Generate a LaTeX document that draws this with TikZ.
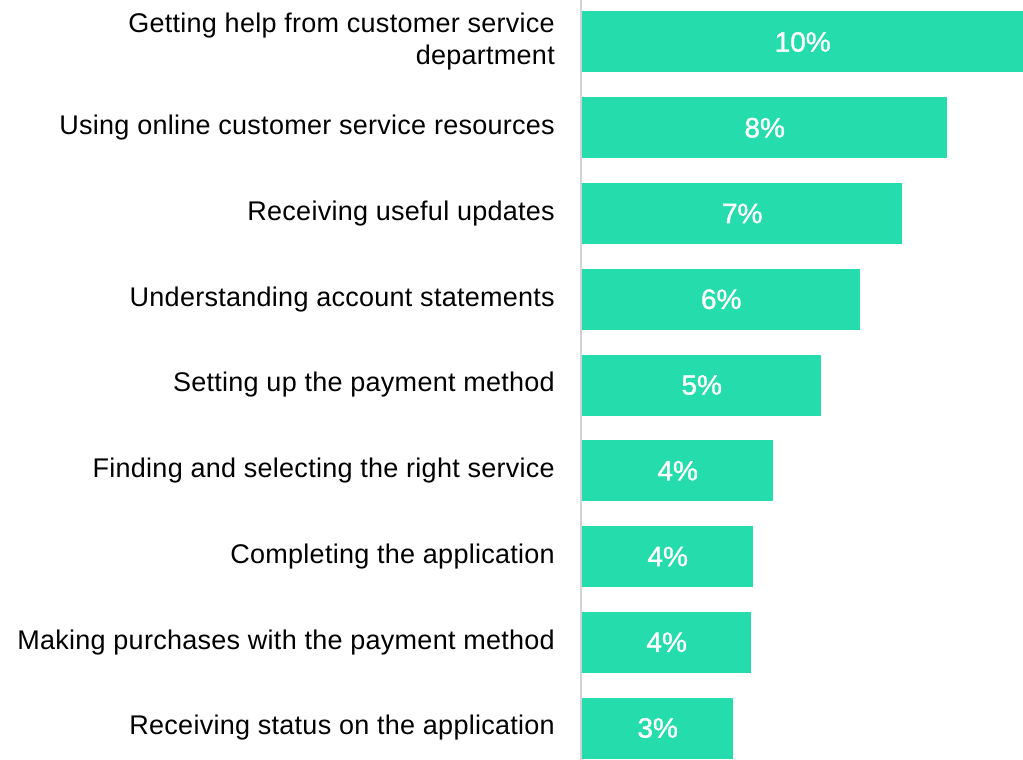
\documentclass[tikz,border=0pt]{standalone}
\usepackage{fontspec}
\setmainfont{Liberation Sans}
\usepackage{tikz}
\definecolor{barmint}{RGB}{36,220,172}
\definecolor{axisgray}{RGB}{210,210,210}
\tikzset{bar/.style={fill=barmint,draw=none,inner sep=0pt,anchor=west,minimum height=61pt},
         pct/.style={text=white,font=\fontsize{28}{30}\selectfont\addfontfeatures{FakeBold=1.2}},
         lab/.style={anchor=east,align=right,inner sep=0pt,font=\fontsize{27}{32}\selectfont\addfontfeatures{LetterSpace=1}}}

\begin{document}
\begin{tikzpicture}[x=1pt,y=-1pt]
  \useasboundingbox (0,0) rectangle (1023,760);
  \draw[axisgray,line width=2pt] (581,0) -- (581,760);
  \foreach \i/\len/\val/\txt in {1/441/10\%/{Getting help from customer service\\department},
                                 2/365/8\%/{Using online customer service resources},
                                 3/320/7\%/{Receiving useful updates},
                                 4/278/6\%/{Understanding account statements},
                                 5/239/5\%/{Setting up the payment method},
                                 6/191/4\%/{Finding and selecting the right service},
                                 7/171/4\%/{Completing the application},
                                 8/169/4\%/{Making purchases with the payment method},
                                 9/151/3\%/{Receiving status on the application}}
  {
    \node[bar,minimum width=\len pt] (bar\i) at (582,{42+(\i-1)*85.75}) {};
    \node[pct] (val\i) at (bar\i.center) {\val};
    \node[lab] (lab\i) at (555,{42+(\i-1)*85.75}) {\txt};
  }
\end{tikzpicture}
\end{document}
